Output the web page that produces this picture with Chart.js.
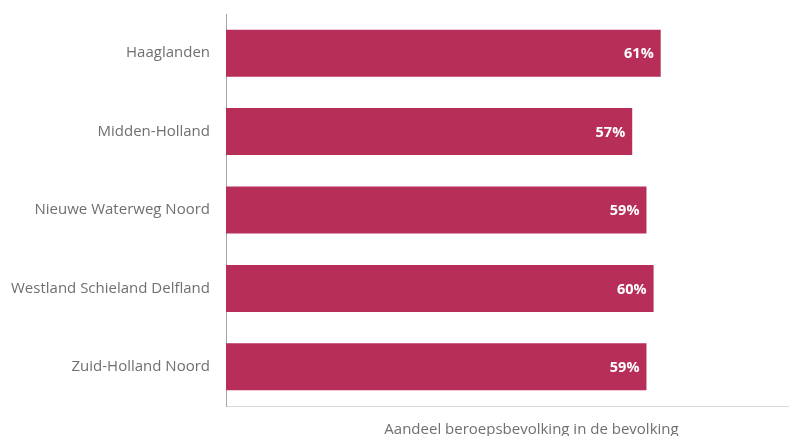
<!DOCTYPE html>
<html>
<head>
<meta charset="utf-8">
<script src="https://cdn.jsdelivr.net/npm/chart.js@4"></script>
<style>
  html, body { margin: 0; padding: 0; background: #fff; }
  #wrap { width: 789px; height: 436px; }
</style>
</head>
<body>
<div id="wrap"><canvas id="aandeelChart" width="789" height="436"></canvas></div>
<script>
// regio's en aandeel beroepsbevolking (%)
const regios = ['Haaglanden', 'Midden-Holland', 'Nieuwe Waterweg Noord', 'Westland Schieland Delfland', 'Zuid-Holland Noord'];
const aandeel = [61, 57, 59, 60, 59];
const asTitel = 'Aandeel beroepsbevolking in de bevolking';

// witte percentages rechts in de balk
const balkLabels = {
    id: 'balkLabels',
    afterDatasetsDraw(chart) {
        const ctx = chart.ctx;
        const meta = chart.getDatasetMeta(0);
        ctx.save();
        ctx.font = 'bold 14.5px "Open Sans"';
        ctx.fillStyle = '#fff';
        ctx.textAlign = 'right';
        ctx.textBaseline = 'middle';
        meta.data.forEach((bar, i) => {
            ctx.fillText(aandeel[i] + '%', bar.x - 7, bar.y + 1);
        });
        ctx.restore();
    }
};

// astitel onder de x-as, iets rechts van het midden
const asTitelPlugin = {
    id: 'asTitel',
    afterDraw(chart) {
        const ctx = chart.ctx;
        const area = chart.chartArea;
        ctx.save();
        ctx.font = '15px "Open Sans"';
        ctx.fillStyle = '#6f6f6f';
        ctx.textAlign = 'center';
        ctx.textBaseline = 'alphabetic';
        ctx.fillText(asTitel, (area.left + area.right) / 2 + 24, area.bottom + 28);
        ctx.restore();
    }
};

const ctx = document.getElementById('aandeelChart').getContext('2d');
new Chart(ctx, {
    type: 'bar',
    data: {
        labels: regios,
        datasets: [{
            data: aandeel,
            backgroundColor: '#b72e59',
            borderWidth: 0,
            barPercentage: 0.6,
            categoryPercentage: 1
        }]
    },
    options: {
        indexAxis: 'y',
        responsive: false,
        animation: false,
        layout: { padding: { top: 14, right: 0, bottom: 0, left: 0 } },
        plugins: {
            legend: { display: false },
            tooltip: { enabled: false }
        },
        scales: {
            x: {
                min: 0,
                max: 79,
                grid: { display: false, drawTicks: false },
                border: { display: true, color: '#d9d9d9', width: 1 },
                ticks: { display: false },
                afterFit(scale) { scale.height = 30; }
            },
            y: {
                grid: { display: false, drawTicks: false },
                border: { display: true, color: '#a6a6a6', width: 1 },
                ticks: {
                    color: '#6f6f6f',
                    padding: 16,
                    font: { family: 'Open Sans', size: 15 }
                },
                afterFit(scale) {
                    scale.width = 226;
                    scale.paddingTop = 0;
                    scale.paddingBottom = 0;
                }
            }
        }
    },
    plugins: [balkLabels, asTitelPlugin]
});
</script>
</body>
</html>
